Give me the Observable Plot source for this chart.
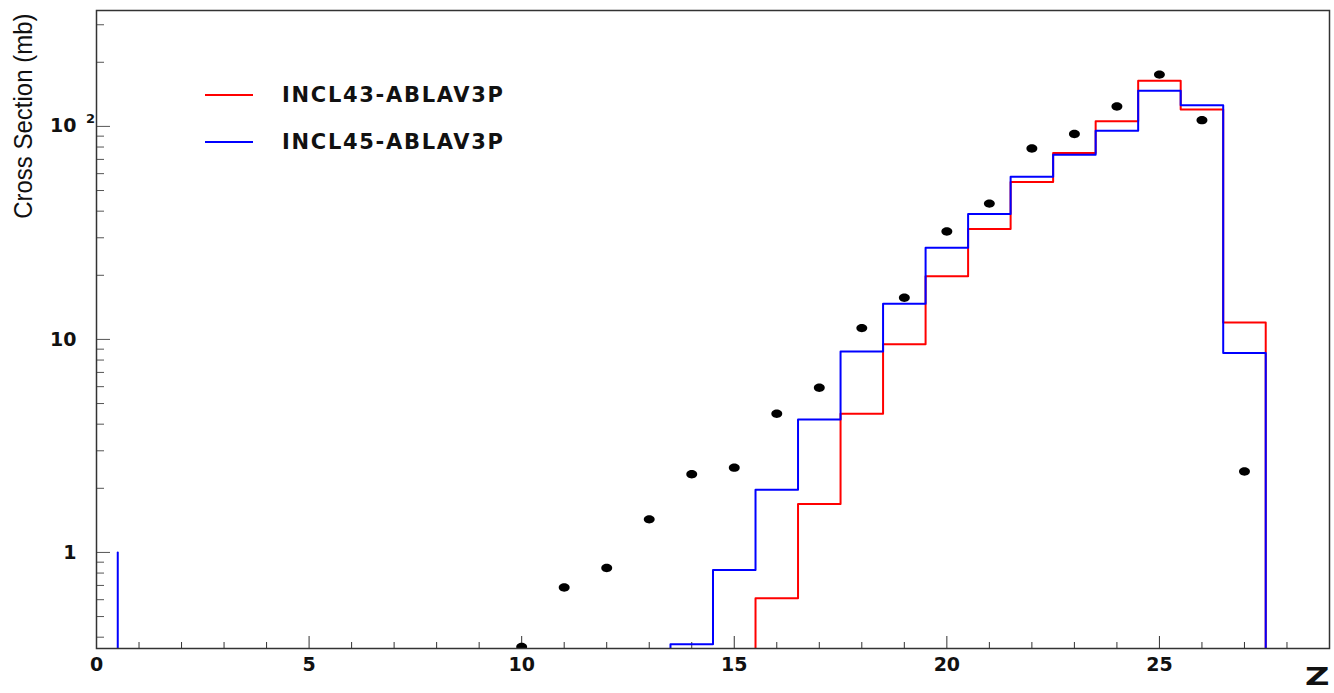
<!DOCTYPE html>
<html><head><meta charset="utf-8">
<script src="https://cdn.jsdelivr.net/npm/d3@7"></script>
<script src="https://cdn.jsdelivr.net/npm/@observablehq/plot@0.6"></script>
<style>
html,body{margin:0;padding:0;background:#fff;}
#wrap{position:relative;width:1334px;height:693px;overflow:hidden;}
.legend{position:absolute;left:205px;top:0;font-family:"DejaVu Sans";font-weight:bold;font-size:21px;letter-spacing:1.7px;color:#111;}
.row{position:absolute;left:0;height:30px;display:flex;align-items:center;white-space:nowrap;}
.sw{width:48px;height:1.5px;margin-right:29px;}
svg{overflow:visible;}
</style></head><body><div id="wrap"></div>
<script>
// ---- data ----
const zBins = [0,1,2,3,4,5,6,7,8,9,10,11,12,13,14,15,16,17,18,19,20,21,22,23,24,25,26,27];
const incl43 = [0,0,0,0,0,0,0,0,0,0,0,0,0,0,0,0,0.61,1.69,4.48,9.5,19.8,33.0,54.8,75.0,105.6,164,120,12.0];
const incl45 = [1.0,0,0,0,0,0,0,0,0,0,0,0,0,0,0.371,0.827,1.97,4.21,8.78,14.7,26.9,38.8,58.0,73.6,95.5,147,125.6,8.63];
const expZ  = [10,11,12,13,14,15,16,17,18,19,20,21,22,23,24,25,26,27];
const expCS = [0.36,0.685,0.845,1.43,2.33,2.50,4.48,5.93,11.3,15.7,32.1,43.4,78.8,92.1,124,175,107,2.40];
const seriesNames = ["INCL43-ABLAV3P","INCL45-ABLAV3P"];
const seriesColors = ["#ff0000","#0000ff"];
const xMajor = [0,5,10,15,20,25];
const xMinor = [1,2,3,4,6,7,8,9,11,12,13,14,16,17,18,19,21,22,23,24,26,27,28];
const yMajor = [1,10,100];
const yMinor = [0.4,0.5,0.6,0.7,0.8,0.9,2,3,4,5,6,7,8,9,20,30,40,50,60,70,80,90,200,300];
const yTitle = "Cross Section (mb)";
const xTitle = "Z";

// ---- layout ----
const W=1334,H=693,mL=96,mR=5,mT=10,mB=45;
const innerW=W-mL-mR, innerH=H-mT-mB;
const xDomain=[0,29], yDomain=[0.354,350];
const floorVal=0.1;

function stepPoints(vals, name){
  const pts=[]; let i=0;
  while(i<vals.length){
    if(!(vals[i]>0)){i++;continue;}
    let j=i; while(j<vals.length && vals[j]>0) j++;
    const run=[{x:zBins[i]-0.5,y:floorVal}];
    for(let k=i;k<j;k++) run.push({x:zBins[k]-0.5,y:vals[k]});
    run.push({x:zBins[j-1]+0.5,y:vals[j-1]});
    run.push({x:zBins[j-1]+0.5,y:floorVal});
    run.filter(p=>p.x>=xDomain[0]).forEach(p=>pts.push({...p,seg:name+"-"+i}));
    i=j;
  }
  return pts;
}
const red = stepPoints(incl43, "a");
const blue = stepPoints(incl45, "b");
const expData = expZ.map((z,i)=>({z, v:expCS[i]}));

const ellipse = {draw(ctx,size){
  const r=Math.sqrt(size/Math.PI), rx=r*1.3, ry=r, k=0.5522847498;
  ctx.moveTo(rx,0);
  ctx.bezierCurveTo(rx,k*ry,k*rx,ry,0,ry);
  ctx.bezierCurveTo(-k*rx,ry,-rx,k*ry,-rx,0);
  ctx.bezierCurveTo(-rx,-k*ry,-k*rx,-ry,0,-ry);
  ctx.bezierCurveTo(k*rx,-ry,rx,-k*ry,rx,0);
  ctx.closePath();
}};

const tickFont = {fontFamily:"DejaVu Sans", fontWeight:"bold", fontSize:19, fill:"#111"};

const chart = Plot.plot({
  width:W, height:H, marginLeft:mL, marginRight:mR, marginTop:mT, marginBottom:mB,
  style:{background:"#fff", color:"#111"},
  x:{type:"linear", domain:xDomain},
  y:{type:"log", domain:yDomain},
  marks:[
    Plot.tickX(xMinor,{x:d=>d, insetTop:innerH-6, stroke:"#333", strokeWidth:1}),
    Plot.tickX(xMajor,{x:d=>d, insetTop:innerH-12, stroke:"#333", strokeWidth:1}),
    Plot.tickY(yMinor,{y:d=>d, insetRight:innerW-8, stroke:"#555", strokeWidth:1}),
    Plot.tickY(yMajor,{y:d=>d, insetRight:innerW-14, stroke:"#555", strokeWidth:1}),
    Plot.axisX(xMajor,{tickSize:0, tickPadding:9, ...tickFont}),
    Plot.axisY(yMajor,{tickSize:0, tickPadding:20, tickFormat:d=>d===100?"10":String(d), ...tickFont}),
    Plot.text([100],{y:d=>d, text:()=>"2", frameAnchor:"left", dx:-6, dy:-8, textAnchor:"middle", fontFamily:"DejaVu Sans", fontWeight:"bold", fontSize:13, fill:"#111"}),
    Plot.text([yTitle],{text:d=>d, frameAnchor:"top-left", rotate:-90, textAnchor:"end", lineAnchor:"middle", dx:-73, dy:3, fontFamily:"Liberation Sans", fontSize:24, fill:"#111"}),
    Plot.text([xTitle],{text:d=>d, frameAnchor:"bottom-right", textAnchor:"end", lineAnchor:"middle", dx:0, dy:28, fontFamily:"DejaVu Sans", fontWeight:"bold", fontSize:25, fill:"#111"}),
    Plot.line(red,{x:"x", y:"y", z:"seg", curve:"step-after", stroke:seriesColors[0], strokeWidth:2, clip:true}),
    Plot.line(blue,{x:"x", y:"y", z:"seg", curve:"step-after", stroke:seriesColors[1], strokeWidth:2, clip:true}),
    Plot.dot(expData,{x:"z", y:"v", r:4.2, symbol:ellipse, fill:"#000", stroke:"none", clip:true}),
    Plot.frame({stroke:"#333", strokeWidth:1.5})
  ]
});
// stretch texts as in the reference
d3.select(chart).selectAll("text").filter(function(){return this.textContent===yTitle;})
  .each(function(){ const t=this.getAttribute("transform")||""; this.setAttribute("transform", t+" scale(1,1.1)"); });
d3.select(chart).selectAll("text").filter(function(){return this.textContent===xTitle;})
  .each(function(){ const t=this.getAttribute("transform")||""; this.setAttribute("transform", t+" scale(1.35,1)"); });
const wrap=document.getElementById("wrap");
wrap.appendChild(chart);
const lg=document.createElement("div"); lg.className="legend";
seriesNames.forEach((n,i)=>{
  const row=document.createElement("div"); row.className="row"; row.style.top=(80+i*47)+"px";
  const sw=document.createElement("span"); sw.className="sw"; sw.style.background=seriesColors[i];
  const t=document.createElement("span"); t.textContent=n;
  row.appendChild(sw); row.appendChild(t); lg.appendChild(row);
});
wrap.appendChild(lg);
</script></body></html>
